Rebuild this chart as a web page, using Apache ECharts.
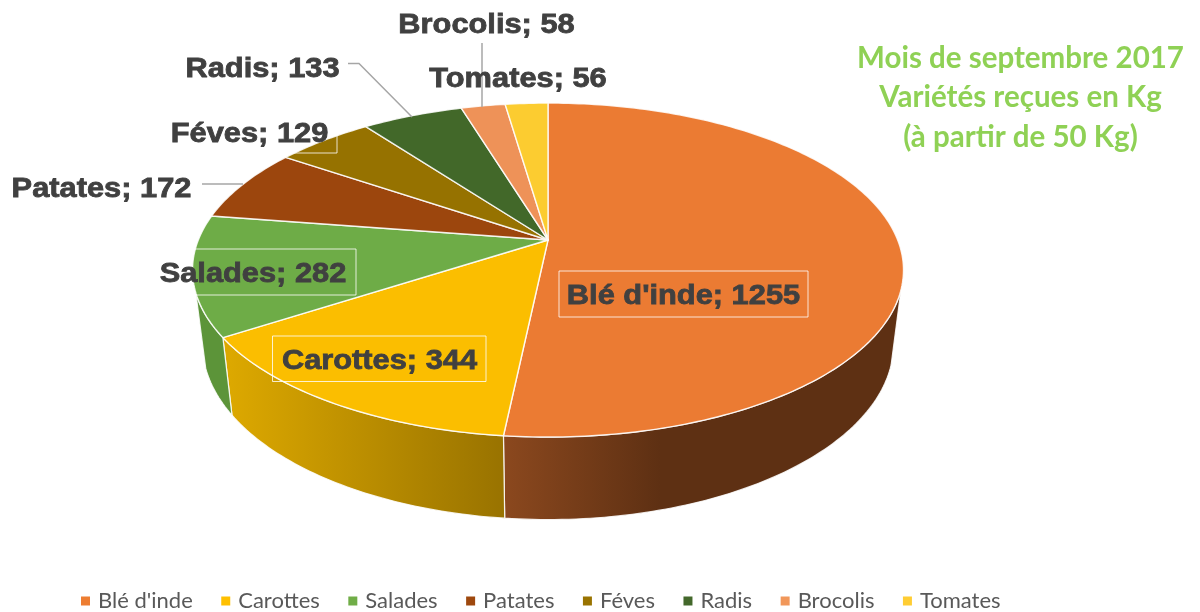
<!DOCTYPE html>
<html><head><meta charset="utf-8">
<style>html,body{margin:0;padding:0;background:#fff}#c{width:1200px;height:612px}</style>
<script src="https://cdn.jsdelivr.net/npm/echarts@6/dist/echarts.min.js"></script>
</head><body><div id="c"></div>
<script>
const categories = ["Blé d'inde","Carottes","Salades","Patates","Féves","Radis","Brocolis","Tomates"];
const values = [1255,344,282,172,129,133,58,56];
const colors = ['#ED7D31','#FFC000','#70AD47','#9E480E','#997300','#43682B','#F1975A','#FFCD33'];
const capColors = ['#EB7B33','#FBBE00','#6EAC47','#9C460D','#967200','#426829','#EE9258','#FCCC30'];
const sideStops = [['#8B481E','#5E3013'],['#DCA800','#997300'],['#5C9439','#5C9439'],['#5F2B08','#5F2B08'],['#5C4500','#5C4500'],['#283F1A','#283F1A'],['#915B36','#915B36'],['#997B1F','#997B1F']];
const sideRange = [[504,660],[230,503],[195,230],[0,1],[0,1],[0,1],[0,1],[0,1]];
const titleLines = ['Mois de septembre 2017','Variétés reçues en Kg','(à partir de 50 Kg)'];

// Projection of the pie disc; front = angular range (degrees) of the visible wall
const geo = {cx:548, cy:240, a:349.7, b:161.6, k:0.18, sx:0.972, d0:82.5, dk:0.05, y0:437, front:[107,252]};
// Label placement: text centre, optional box, optional leader line
const labelLayout = [
 {x:683.5,y:296,box:[559,271,249,46]},
 {x:379.5,y:361.5,box:[272.5,336,213.5,45.5]},
 {x:253,y:274.5,box:[150,249,206,46]},
 {x:101.5,y:189.5,line:[[202,184],[243,184]]},
 {x:249.5,y:134.5,box:[162,108,175,45]},
 {x:262.5,y:69.5,line:[[348,63.5],[359,63.5],[412,117]]},
 {x:486.5,y:25.5,line:[[482,43],[482,107]]},
 {x:518,y:79.5}
];
const labelStretch = 1.1;
const total = values.reduce((s,v)=>s+v,0);
const startOf = i => values.slice(0,i).reduce((s,v)=>s+v,0);
const rad = Math.PI/180;
function rimPoint(t){const u=Math.sin(t),v=-Math.cos(t),w=1-geo.k*v;return [geo.cx+geo.a*u/w,geo.cy+geo.b*v/w];}
function lowerPoint(p){return [geo.cx+(p[0]-geo.cx)*geo.sx,p[1]+geo.d0+geo.dk*(p[1]-geo.y0)];}
function arc(a0,a1){const n=Math.max(2,Math.ceil((a1-a0)/rad)),o=[];for(let j=0;j<=n;j++)o.push(rimPoint(a0+(a1-a0)*j/n));return o;}
const edge='rgba(255,255,255,0.85)';
function renderItem(params,api){
  const i=params.seriesIndex,val=api.value(0);
  const a0=startOf(i)/total*2*Math.PI,a1=(startOf(i)+val)/total*2*Math.PI;
  const rim=arc(a0,a1);
  const rng=sideRange[i],st=sideStops[i];
  const children=[];
  const f0=Math.max(a0,geo.front[0]*rad),f1=Math.min(a1,geo.front[1]*rad);
  if(f1>f0){
    const wall=arc(f0,f1);
    children.push({type:'polygon',z2:10,shape:{points:wall.concat(wall.map(lowerPoint).reverse())},
      style:{fill:new echarts.graphic.LinearGradient(rng[0],0,rng[1],0,[{offset:0,color:st[0]},{offset:1,color:st[1]}],true),stroke:edge,lineWidth:1.2}});
  }
  children.push({type:'polygon',z2:20,shape:{points:[[geo.cx,geo.cy]].concat(rim)},
    style:{fill:capColors[i],stroke:edge,lineWidth:1.4,lineJoin:'round'}});
  const L=labelLayout[i];
  if(L.box)children.push({type:'rect',z2:30,shape:{x:L.box[0],y:L.box[1],width:L.box[2],height:L.box[3]},
    style:{fill:null,stroke:'rgba(255,255,255,0.8)',lineWidth:1}});
  if(L.line)children.push({type:'polyline',z2:30,shape:{points:L.line},style:{fill:null,stroke:'#A6A6A6',lineWidth:1.5}});
  children.push({type:'text',z2:40,x:L.x,y:L.y,scaleX:labelStretch,style:{x:0,y:0,text:categories[i]+'; '+val,align:'center',verticalAlign:'middle',
    font:'bold 28px "Liberation Sans"',fill:'#404040',stroke:'#404040',lineWidth:0.8}});
  return {type:'group',children};
}
const chart=echarts.init(document.getElementById('c'),null,{renderer:'canvas'});
chart.setOption({
  animation:false,
  color:colors,
  title:{text:titleLines.join('\n'),left:1015.5,top:33.5,textAlign:'center',
    textStyle:{fontFamily:'Lato',fontWeight:'bold',fontSize:29.5,lineHeight:39.5,color:'#8FD155'}},
  legend:{top:585,left:76,icon:'rect',itemWidth:9,itemHeight:9,itemGap:28.5,
    data:categories,textStyle:{fontFamily:'Lato',fontSize:22,color:'#595959',padding:[0,0,0,3]}},
  series:categories.map((name,i)=>({type:'custom',name,coordinateSystem:'none',data:[[values[i]]],
    itemStyle:{color:colors[i]},renderItem,silent:true,clip:false}))
});
</script></body></html>
